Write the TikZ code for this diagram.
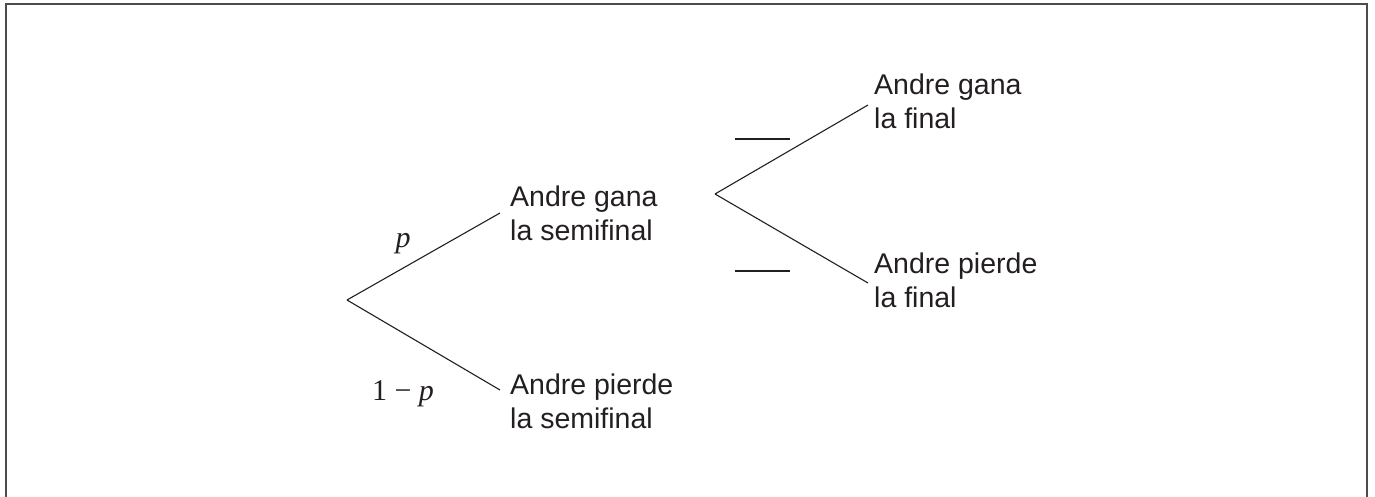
\documentclass[tikz,border=0pt]{standalone}
\usepackage{fontspec}
\setmainfont{Liberation Sans}
\newfontfamily\tnr{Liberation Serif}
\usetikzlibrary{calc}
\definecolor{ink}{HTML}{231F20}
\tikzset{
  lbl/.style={anchor=base west, align=left, inner sep=0pt, text=ink,
    font=\fontsize{28.5}{34}\selectfont},
  prob/.style={anchor=base, inner sep=0pt, text=ink,
    font=\tnr\fontsize{30}{34}\selectfont},
  branch/.style={line width=1.1pt, draw=ink},
  blank/.style={line width=1.1pt, draw=ink},
  frame/.style={line width=1.6pt, draw=black!70}
}
\begin{document}
\begin{tikzpicture}[x=1pt,y=-1pt]
\useasboundingbox (0,0) rectangle (1375,497);
\draw[frame] (6,497) -- (6,4) -- (1367,4) -- (1367,497);

\coordinate (A) at (347,300);
\coordinate (B) at (715,194);

% base anchor = baseline of the last line
\node[lbl] (sw) at (510,240) {Andre gana\\la semifinal};
\node[lbl] (sl) at (510,428) {Andre pierde\\la semifinal};
\node[lbl] (fw) at (874,129) {Andre gana\\la final};
\node[lbl] (fl) at (874,307) {Andre pierde\\la final};

\draw[branch] (A) -- ($(sw.base west)+(-10,-27)$);
\draw[branch] (A) -- ($(sl.base west)+(-10,-38)$);
\draw[branch] (B) -- ($(fw.base west)+(-6,-24)$);
\draw[branch] (B) -- ($(fl.base west)+(-6,-24)$);

\node[prob] (p) at (403,247) {\itshape p};
\node[prob] (q) at (403,400) {1 − \itshape p};

\coordinate (b1s) at (735,139);
\coordinate (b1e) at (790,139);
\coordinate (b2s) at (735,271);
\coordinate (b2e) at (790,271);
\draw[blank] (b1s) -- (b1e);
\draw[blank] (b2s) -- (b2e);
\end{tikzpicture}
\end{document}
